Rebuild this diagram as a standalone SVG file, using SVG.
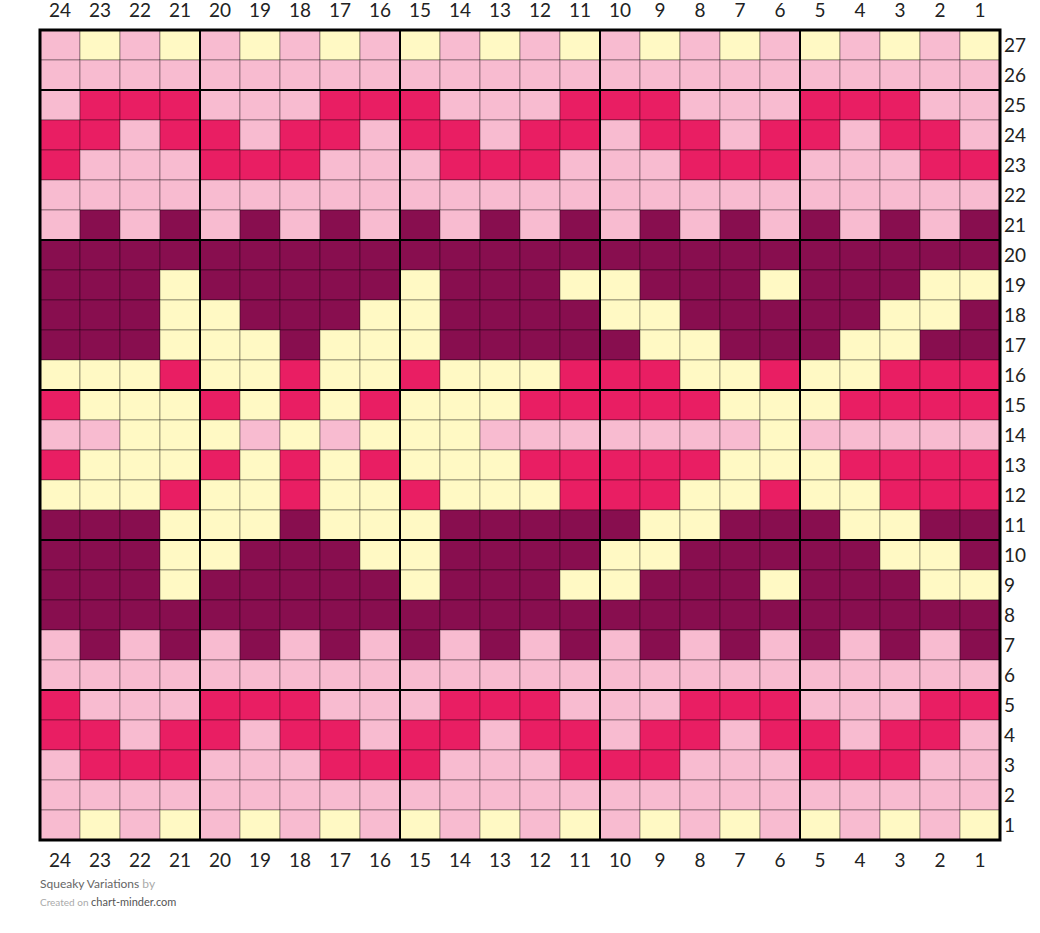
<svg xmlns="http://www.w3.org/2000/svg" width="1040" height="933" viewBox="0 0 1040 933">
<style>
.P{fill:#f8bbd0}.Y{fill:#fff9c4}.H{fill:#e91e63}.M{fill:#880e4f}
rect{stroke:#000;stroke-opacity:0.35;stroke-width:1}
.lab{font-family:Lato,"Liberation Sans",sans-serif;font-size:19px;fill:#222}
.c{text-anchor:middle}
.thick{stroke:#000;stroke-width:2;fill:none}
.border{stroke:#000;stroke-width:3;fill:none}
.ft{font-family:Lato,"Liberation Sans",sans-serif;font-size:12px}
</style>
<g id="grid">
<g id="row27"><rect x="40" y="30" width="40" height="30" class="P"/><rect x="80" y="30" width="40" height="30" class="Y"/><rect x="120" y="30" width="40" height="30" class="P"/><rect x="160" y="30" width="40" height="30" class="Y"/><rect x="200" y="30" width="40" height="30" class="P"/><rect x="240" y="30" width="40" height="30" class="Y"/><rect x="280" y="30" width="40" height="30" class="P"/><rect x="320" y="30" width="40" height="30" class="Y"/><rect x="360" y="30" width="40" height="30" class="P"/><rect x="400" y="30" width="40" height="30" class="Y"/><rect x="440" y="30" width="40" height="30" class="P"/><rect x="480" y="30" width="40" height="30" class="Y"/><rect x="520" y="30" width="40" height="30" class="P"/><rect x="560" y="30" width="40" height="30" class="Y"/><rect x="600" y="30" width="40" height="30" class="P"/><rect x="640" y="30" width="40" height="30" class="Y"/><rect x="680" y="30" width="40" height="30" class="P"/><rect x="720" y="30" width="40" height="30" class="Y"/><rect x="760" y="30" width="40" height="30" class="P"/><rect x="800" y="30" width="40" height="30" class="Y"/><rect x="840" y="30" width="40" height="30" class="P"/><rect x="880" y="30" width="40" height="30" class="Y"/><rect x="920" y="30" width="40" height="30" class="P"/><rect x="960" y="30" width="40" height="30" class="Y"/></g>
<g id="row26"><rect x="40" y="60" width="40" height="30" class="P"/><rect x="80" y="60" width="40" height="30" class="P"/><rect x="120" y="60" width="40" height="30" class="P"/><rect x="160" y="60" width="40" height="30" class="P"/><rect x="200" y="60" width="40" height="30" class="P"/><rect x="240" y="60" width="40" height="30" class="P"/><rect x="280" y="60" width="40" height="30" class="P"/><rect x="320" y="60" width="40" height="30" class="P"/><rect x="360" y="60" width="40" height="30" class="P"/><rect x="400" y="60" width="40" height="30" class="P"/><rect x="440" y="60" width="40" height="30" class="P"/><rect x="480" y="60" width="40" height="30" class="P"/><rect x="520" y="60" width="40" height="30" class="P"/><rect x="560" y="60" width="40" height="30" class="P"/><rect x="600" y="60" width="40" height="30" class="P"/><rect x="640" y="60" width="40" height="30" class="P"/><rect x="680" y="60" width="40" height="30" class="P"/><rect x="720" y="60" width="40" height="30" class="P"/><rect x="760" y="60" width="40" height="30" class="P"/><rect x="800" y="60" width="40" height="30" class="P"/><rect x="840" y="60" width="40" height="30" class="P"/><rect x="880" y="60" width="40" height="30" class="P"/><rect x="920" y="60" width="40" height="30" class="P"/><rect x="960" y="60" width="40" height="30" class="P"/></g>
<g id="row25"><rect x="40" y="90" width="40" height="30" class="P"/><rect x="80" y="90" width="40" height="30" class="H"/><rect x="120" y="90" width="40" height="30" class="H"/><rect x="160" y="90" width="40" height="30" class="H"/><rect x="200" y="90" width="40" height="30" class="P"/><rect x="240" y="90" width="40" height="30" class="P"/><rect x="280" y="90" width="40" height="30" class="P"/><rect x="320" y="90" width="40" height="30" class="H"/><rect x="360" y="90" width="40" height="30" class="H"/><rect x="400" y="90" width="40" height="30" class="H"/><rect x="440" y="90" width="40" height="30" class="P"/><rect x="480" y="90" width="40" height="30" class="P"/><rect x="520" y="90" width="40" height="30" class="P"/><rect x="560" y="90" width="40" height="30" class="H"/><rect x="600" y="90" width="40" height="30" class="H"/><rect x="640" y="90" width="40" height="30" class="H"/><rect x="680" y="90" width="40" height="30" class="P"/><rect x="720" y="90" width="40" height="30" class="P"/><rect x="760" y="90" width="40" height="30" class="P"/><rect x="800" y="90" width="40" height="30" class="H"/><rect x="840" y="90" width="40" height="30" class="H"/><rect x="880" y="90" width="40" height="30" class="H"/><rect x="920" y="90" width="40" height="30" class="P"/><rect x="960" y="90" width="40" height="30" class="P"/></g>
<g id="row24"><rect x="40" y="120" width="40" height="30" class="H"/><rect x="80" y="120" width="40" height="30" class="H"/><rect x="120" y="120" width="40" height="30" class="P"/><rect x="160" y="120" width="40" height="30" class="H"/><rect x="200" y="120" width="40" height="30" class="H"/><rect x="240" y="120" width="40" height="30" class="P"/><rect x="280" y="120" width="40" height="30" class="H"/><rect x="320" y="120" width="40" height="30" class="H"/><rect x="360" y="120" width="40" height="30" class="P"/><rect x="400" y="120" width="40" height="30" class="H"/><rect x="440" y="120" width="40" height="30" class="H"/><rect x="480" y="120" width="40" height="30" class="P"/><rect x="520" y="120" width="40" height="30" class="H"/><rect x="560" y="120" width="40" height="30" class="H"/><rect x="600" y="120" width="40" height="30" class="P"/><rect x="640" y="120" width="40" height="30" class="H"/><rect x="680" y="120" width="40" height="30" class="H"/><rect x="720" y="120" width="40" height="30" class="P"/><rect x="760" y="120" width="40" height="30" class="H"/><rect x="800" y="120" width="40" height="30" class="H"/><rect x="840" y="120" width="40" height="30" class="P"/><rect x="880" y="120" width="40" height="30" class="H"/><rect x="920" y="120" width="40" height="30" class="H"/><rect x="960" y="120" width="40" height="30" class="P"/></g>
<g id="row23"><rect x="40" y="150" width="40" height="30" class="H"/><rect x="80" y="150" width="40" height="30" class="P"/><rect x="120" y="150" width="40" height="30" class="P"/><rect x="160" y="150" width="40" height="30" class="P"/><rect x="200" y="150" width="40" height="30" class="H"/><rect x="240" y="150" width="40" height="30" class="H"/><rect x="280" y="150" width="40" height="30" class="H"/><rect x="320" y="150" width="40" height="30" class="P"/><rect x="360" y="150" width="40" height="30" class="P"/><rect x="400" y="150" width="40" height="30" class="P"/><rect x="440" y="150" width="40" height="30" class="H"/><rect x="480" y="150" width="40" height="30" class="H"/><rect x="520" y="150" width="40" height="30" class="H"/><rect x="560" y="150" width="40" height="30" class="P"/><rect x="600" y="150" width="40" height="30" class="P"/><rect x="640" y="150" width="40" height="30" class="P"/><rect x="680" y="150" width="40" height="30" class="H"/><rect x="720" y="150" width="40" height="30" class="H"/><rect x="760" y="150" width="40" height="30" class="H"/><rect x="800" y="150" width="40" height="30" class="P"/><rect x="840" y="150" width="40" height="30" class="P"/><rect x="880" y="150" width="40" height="30" class="P"/><rect x="920" y="150" width="40" height="30" class="H"/><rect x="960" y="150" width="40" height="30" class="H"/></g>
<g id="row22"><rect x="40" y="180" width="40" height="30" class="P"/><rect x="80" y="180" width="40" height="30" class="P"/><rect x="120" y="180" width="40" height="30" class="P"/><rect x="160" y="180" width="40" height="30" class="P"/><rect x="200" y="180" width="40" height="30" class="P"/><rect x="240" y="180" width="40" height="30" class="P"/><rect x="280" y="180" width="40" height="30" class="P"/><rect x="320" y="180" width="40" height="30" class="P"/><rect x="360" y="180" width="40" height="30" class="P"/><rect x="400" y="180" width="40" height="30" class="P"/><rect x="440" y="180" width="40" height="30" class="P"/><rect x="480" y="180" width="40" height="30" class="P"/><rect x="520" y="180" width="40" height="30" class="P"/><rect x="560" y="180" width="40" height="30" class="P"/><rect x="600" y="180" width="40" height="30" class="P"/><rect x="640" y="180" width="40" height="30" class="P"/><rect x="680" y="180" width="40" height="30" class="P"/><rect x="720" y="180" width="40" height="30" class="P"/><rect x="760" y="180" width="40" height="30" class="P"/><rect x="800" y="180" width="40" height="30" class="P"/><rect x="840" y="180" width="40" height="30" class="P"/><rect x="880" y="180" width="40" height="30" class="P"/><rect x="920" y="180" width="40" height="30" class="P"/><rect x="960" y="180" width="40" height="30" class="P"/></g>
<g id="row21"><rect x="40" y="210" width="40" height="30" class="P"/><rect x="80" y="210" width="40" height="30" class="M"/><rect x="120" y="210" width="40" height="30" class="P"/><rect x="160" y="210" width="40" height="30" class="M"/><rect x="200" y="210" width="40" height="30" class="P"/><rect x="240" y="210" width="40" height="30" class="M"/><rect x="280" y="210" width="40" height="30" class="P"/><rect x="320" y="210" width="40" height="30" class="M"/><rect x="360" y="210" width="40" height="30" class="P"/><rect x="400" y="210" width="40" height="30" class="M"/><rect x="440" y="210" width="40" height="30" class="P"/><rect x="480" y="210" width="40" height="30" class="M"/><rect x="520" y="210" width="40" height="30" class="P"/><rect x="560" y="210" width="40" height="30" class="M"/><rect x="600" y="210" width="40" height="30" class="P"/><rect x="640" y="210" width="40" height="30" class="M"/><rect x="680" y="210" width="40" height="30" class="P"/><rect x="720" y="210" width="40" height="30" class="M"/><rect x="760" y="210" width="40" height="30" class="P"/><rect x="800" y="210" width="40" height="30" class="M"/><rect x="840" y="210" width="40" height="30" class="P"/><rect x="880" y="210" width="40" height="30" class="M"/><rect x="920" y="210" width="40" height="30" class="P"/><rect x="960" y="210" width="40" height="30" class="M"/></g>
<g id="row20"><rect x="40" y="240" width="40" height="30" class="M"/><rect x="80" y="240" width="40" height="30" class="M"/><rect x="120" y="240" width="40" height="30" class="M"/><rect x="160" y="240" width="40" height="30" class="M"/><rect x="200" y="240" width="40" height="30" class="M"/><rect x="240" y="240" width="40" height="30" class="M"/><rect x="280" y="240" width="40" height="30" class="M"/><rect x="320" y="240" width="40" height="30" class="M"/><rect x="360" y="240" width="40" height="30" class="M"/><rect x="400" y="240" width="40" height="30" class="M"/><rect x="440" y="240" width="40" height="30" class="M"/><rect x="480" y="240" width="40" height="30" class="M"/><rect x="520" y="240" width="40" height="30" class="M"/><rect x="560" y="240" width="40" height="30" class="M"/><rect x="600" y="240" width="40" height="30" class="M"/><rect x="640" y="240" width="40" height="30" class="M"/><rect x="680" y="240" width="40" height="30" class="M"/><rect x="720" y="240" width="40" height="30" class="M"/><rect x="760" y="240" width="40" height="30" class="M"/><rect x="800" y="240" width="40" height="30" class="M"/><rect x="840" y="240" width="40" height="30" class="M"/><rect x="880" y="240" width="40" height="30" class="M"/><rect x="920" y="240" width="40" height="30" class="M"/><rect x="960" y="240" width="40" height="30" class="M"/></g>
<g id="row19"><rect x="40" y="270" width="40" height="30" class="M"/><rect x="80" y="270" width="40" height="30" class="M"/><rect x="120" y="270" width="40" height="30" class="M"/><rect x="160" y="270" width="40" height="30" class="Y"/><rect x="200" y="270" width="40" height="30" class="M"/><rect x="240" y="270" width="40" height="30" class="M"/><rect x="280" y="270" width="40" height="30" class="M"/><rect x="320" y="270" width="40" height="30" class="M"/><rect x="360" y="270" width="40" height="30" class="M"/><rect x="400" y="270" width="40" height="30" class="Y"/><rect x="440" y="270" width="40" height="30" class="M"/><rect x="480" y="270" width="40" height="30" class="M"/><rect x="520" y="270" width="40" height="30" class="M"/><rect x="560" y="270" width="40" height="30" class="Y"/><rect x="600" y="270" width="40" height="30" class="Y"/><rect x="640" y="270" width="40" height="30" class="M"/><rect x="680" y="270" width="40" height="30" class="M"/><rect x="720" y="270" width="40" height="30" class="M"/><rect x="760" y="270" width="40" height="30" class="Y"/><rect x="800" y="270" width="40" height="30" class="M"/><rect x="840" y="270" width="40" height="30" class="M"/><rect x="880" y="270" width="40" height="30" class="M"/><rect x="920" y="270" width="40" height="30" class="Y"/><rect x="960" y="270" width="40" height="30" class="Y"/></g>
<g id="row18"><rect x="40" y="300" width="40" height="30" class="M"/><rect x="80" y="300" width="40" height="30" class="M"/><rect x="120" y="300" width="40" height="30" class="M"/><rect x="160" y="300" width="40" height="30" class="Y"/><rect x="200" y="300" width="40" height="30" class="Y"/><rect x="240" y="300" width="40" height="30" class="M"/><rect x="280" y="300" width="40" height="30" class="M"/><rect x="320" y="300" width="40" height="30" class="M"/><rect x="360" y="300" width="40" height="30" class="Y"/><rect x="400" y="300" width="40" height="30" class="Y"/><rect x="440" y="300" width="40" height="30" class="M"/><rect x="480" y="300" width="40" height="30" class="M"/><rect x="520" y="300" width="40" height="30" class="M"/><rect x="560" y="300" width="40" height="30" class="M"/><rect x="600" y="300" width="40" height="30" class="Y"/><rect x="640" y="300" width="40" height="30" class="Y"/><rect x="680" y="300" width="40" height="30" class="M"/><rect x="720" y="300" width="40" height="30" class="M"/><rect x="760" y="300" width="40" height="30" class="M"/><rect x="800" y="300" width="40" height="30" class="M"/><rect x="840" y="300" width="40" height="30" class="M"/><rect x="880" y="300" width="40" height="30" class="Y"/><rect x="920" y="300" width="40" height="30" class="Y"/><rect x="960" y="300" width="40" height="30" class="M"/></g>
<g id="row17"><rect x="40" y="330" width="40" height="30" class="M"/><rect x="80" y="330" width="40" height="30" class="M"/><rect x="120" y="330" width="40" height="30" class="M"/><rect x="160" y="330" width="40" height="30" class="Y"/><rect x="200" y="330" width="40" height="30" class="Y"/><rect x="240" y="330" width="40" height="30" class="Y"/><rect x="280" y="330" width="40" height="30" class="M"/><rect x="320" y="330" width="40" height="30" class="Y"/><rect x="360" y="330" width="40" height="30" class="Y"/><rect x="400" y="330" width="40" height="30" class="Y"/><rect x="440" y="330" width="40" height="30" class="M"/><rect x="480" y="330" width="40" height="30" class="M"/><rect x="520" y="330" width="40" height="30" class="M"/><rect x="560" y="330" width="40" height="30" class="M"/><rect x="600" y="330" width="40" height="30" class="M"/><rect x="640" y="330" width="40" height="30" class="Y"/><rect x="680" y="330" width="40" height="30" class="Y"/><rect x="720" y="330" width="40" height="30" class="M"/><rect x="760" y="330" width="40" height="30" class="M"/><rect x="800" y="330" width="40" height="30" class="M"/><rect x="840" y="330" width="40" height="30" class="Y"/><rect x="880" y="330" width="40" height="30" class="Y"/><rect x="920" y="330" width="40" height="30" class="M"/><rect x="960" y="330" width="40" height="30" class="M"/></g>
<g id="row16"><rect x="40" y="360" width="40" height="30" class="Y"/><rect x="80" y="360" width="40" height="30" class="Y"/><rect x="120" y="360" width="40" height="30" class="Y"/><rect x="160" y="360" width="40" height="30" class="H"/><rect x="200" y="360" width="40" height="30" class="Y"/><rect x="240" y="360" width="40" height="30" class="Y"/><rect x="280" y="360" width="40" height="30" class="H"/><rect x="320" y="360" width="40" height="30" class="Y"/><rect x="360" y="360" width="40" height="30" class="Y"/><rect x="400" y="360" width="40" height="30" class="H"/><rect x="440" y="360" width="40" height="30" class="Y"/><rect x="480" y="360" width="40" height="30" class="Y"/><rect x="520" y="360" width="40" height="30" class="Y"/><rect x="560" y="360" width="40" height="30" class="H"/><rect x="600" y="360" width="40" height="30" class="H"/><rect x="640" y="360" width="40" height="30" class="H"/><rect x="680" y="360" width="40" height="30" class="Y"/><rect x="720" y="360" width="40" height="30" class="Y"/><rect x="760" y="360" width="40" height="30" class="H"/><rect x="800" y="360" width="40" height="30" class="Y"/><rect x="840" y="360" width="40" height="30" class="Y"/><rect x="880" y="360" width="40" height="30" class="H"/><rect x="920" y="360" width="40" height="30" class="H"/><rect x="960" y="360" width="40" height="30" class="H"/></g>
<g id="row15"><rect x="40" y="390" width="40" height="30" class="H"/><rect x="80" y="390" width="40" height="30" class="Y"/><rect x="120" y="390" width="40" height="30" class="Y"/><rect x="160" y="390" width="40" height="30" class="Y"/><rect x="200" y="390" width="40" height="30" class="H"/><rect x="240" y="390" width="40" height="30" class="Y"/><rect x="280" y="390" width="40" height="30" class="H"/><rect x="320" y="390" width="40" height="30" class="Y"/><rect x="360" y="390" width="40" height="30" class="H"/><rect x="400" y="390" width="40" height="30" class="Y"/><rect x="440" y="390" width="40" height="30" class="Y"/><rect x="480" y="390" width="40" height="30" class="Y"/><rect x="520" y="390" width="40" height="30" class="H"/><rect x="560" y="390" width="40" height="30" class="H"/><rect x="600" y="390" width="40" height="30" class="H"/><rect x="640" y="390" width="40" height="30" class="H"/><rect x="680" y="390" width="40" height="30" class="H"/><rect x="720" y="390" width="40" height="30" class="Y"/><rect x="760" y="390" width="40" height="30" class="Y"/><rect x="800" y="390" width="40" height="30" class="Y"/><rect x="840" y="390" width="40" height="30" class="H"/><rect x="880" y="390" width="40" height="30" class="H"/><rect x="920" y="390" width="40" height="30" class="H"/><rect x="960" y="390" width="40" height="30" class="H"/></g>
<g id="row14"><rect x="40" y="420" width="40" height="30" class="P"/><rect x="80" y="420" width="40" height="30" class="P"/><rect x="120" y="420" width="40" height="30" class="Y"/><rect x="160" y="420" width="40" height="30" class="Y"/><rect x="200" y="420" width="40" height="30" class="Y"/><rect x="240" y="420" width="40" height="30" class="P"/><rect x="280" y="420" width="40" height="30" class="Y"/><rect x="320" y="420" width="40" height="30" class="P"/><rect x="360" y="420" width="40" height="30" class="Y"/><rect x="400" y="420" width="40" height="30" class="Y"/><rect x="440" y="420" width="40" height="30" class="Y"/><rect x="480" y="420" width="40" height="30" class="P"/><rect x="520" y="420" width="40" height="30" class="P"/><rect x="560" y="420" width="40" height="30" class="P"/><rect x="600" y="420" width="40" height="30" class="P"/><rect x="640" y="420" width="40" height="30" class="P"/><rect x="680" y="420" width="40" height="30" class="P"/><rect x="720" y="420" width="40" height="30" class="P"/><rect x="760" y="420" width="40" height="30" class="Y"/><rect x="800" y="420" width="40" height="30" class="P"/><rect x="840" y="420" width="40" height="30" class="P"/><rect x="880" y="420" width="40" height="30" class="P"/><rect x="920" y="420" width="40" height="30" class="P"/><rect x="960" y="420" width="40" height="30" class="P"/></g>
<g id="row13"><rect x="40" y="450" width="40" height="30" class="H"/><rect x="80" y="450" width="40" height="30" class="Y"/><rect x="120" y="450" width="40" height="30" class="Y"/><rect x="160" y="450" width="40" height="30" class="Y"/><rect x="200" y="450" width="40" height="30" class="H"/><rect x="240" y="450" width="40" height="30" class="Y"/><rect x="280" y="450" width="40" height="30" class="H"/><rect x="320" y="450" width="40" height="30" class="Y"/><rect x="360" y="450" width="40" height="30" class="H"/><rect x="400" y="450" width="40" height="30" class="Y"/><rect x="440" y="450" width="40" height="30" class="Y"/><rect x="480" y="450" width="40" height="30" class="Y"/><rect x="520" y="450" width="40" height="30" class="H"/><rect x="560" y="450" width="40" height="30" class="H"/><rect x="600" y="450" width="40" height="30" class="H"/><rect x="640" y="450" width="40" height="30" class="H"/><rect x="680" y="450" width="40" height="30" class="H"/><rect x="720" y="450" width="40" height="30" class="Y"/><rect x="760" y="450" width="40" height="30" class="Y"/><rect x="800" y="450" width="40" height="30" class="Y"/><rect x="840" y="450" width="40" height="30" class="H"/><rect x="880" y="450" width="40" height="30" class="H"/><rect x="920" y="450" width="40" height="30" class="H"/><rect x="960" y="450" width="40" height="30" class="H"/></g>
<g id="row12"><rect x="40" y="480" width="40" height="30" class="Y"/><rect x="80" y="480" width="40" height="30" class="Y"/><rect x="120" y="480" width="40" height="30" class="Y"/><rect x="160" y="480" width="40" height="30" class="H"/><rect x="200" y="480" width="40" height="30" class="Y"/><rect x="240" y="480" width="40" height="30" class="Y"/><rect x="280" y="480" width="40" height="30" class="H"/><rect x="320" y="480" width="40" height="30" class="Y"/><rect x="360" y="480" width="40" height="30" class="Y"/><rect x="400" y="480" width="40" height="30" class="H"/><rect x="440" y="480" width="40" height="30" class="Y"/><rect x="480" y="480" width="40" height="30" class="Y"/><rect x="520" y="480" width="40" height="30" class="Y"/><rect x="560" y="480" width="40" height="30" class="H"/><rect x="600" y="480" width="40" height="30" class="H"/><rect x="640" y="480" width="40" height="30" class="H"/><rect x="680" y="480" width="40" height="30" class="Y"/><rect x="720" y="480" width="40" height="30" class="Y"/><rect x="760" y="480" width="40" height="30" class="H"/><rect x="800" y="480" width="40" height="30" class="Y"/><rect x="840" y="480" width="40" height="30" class="Y"/><rect x="880" y="480" width="40" height="30" class="H"/><rect x="920" y="480" width="40" height="30" class="H"/><rect x="960" y="480" width="40" height="30" class="H"/></g>
<g id="row11"><rect x="40" y="510" width="40" height="30" class="M"/><rect x="80" y="510" width="40" height="30" class="M"/><rect x="120" y="510" width="40" height="30" class="M"/><rect x="160" y="510" width="40" height="30" class="Y"/><rect x="200" y="510" width="40" height="30" class="Y"/><rect x="240" y="510" width="40" height="30" class="Y"/><rect x="280" y="510" width="40" height="30" class="M"/><rect x="320" y="510" width="40" height="30" class="Y"/><rect x="360" y="510" width="40" height="30" class="Y"/><rect x="400" y="510" width="40" height="30" class="Y"/><rect x="440" y="510" width="40" height="30" class="M"/><rect x="480" y="510" width="40" height="30" class="M"/><rect x="520" y="510" width="40" height="30" class="M"/><rect x="560" y="510" width="40" height="30" class="M"/><rect x="600" y="510" width="40" height="30" class="M"/><rect x="640" y="510" width="40" height="30" class="Y"/><rect x="680" y="510" width="40" height="30" class="Y"/><rect x="720" y="510" width="40" height="30" class="M"/><rect x="760" y="510" width="40" height="30" class="M"/><rect x="800" y="510" width="40" height="30" class="M"/><rect x="840" y="510" width="40" height="30" class="Y"/><rect x="880" y="510" width="40" height="30" class="Y"/><rect x="920" y="510" width="40" height="30" class="M"/><rect x="960" y="510" width="40" height="30" class="M"/></g>
<g id="row10"><rect x="40" y="540" width="40" height="30" class="M"/><rect x="80" y="540" width="40" height="30" class="M"/><rect x="120" y="540" width="40" height="30" class="M"/><rect x="160" y="540" width="40" height="30" class="Y"/><rect x="200" y="540" width="40" height="30" class="Y"/><rect x="240" y="540" width="40" height="30" class="M"/><rect x="280" y="540" width="40" height="30" class="M"/><rect x="320" y="540" width="40" height="30" class="M"/><rect x="360" y="540" width="40" height="30" class="Y"/><rect x="400" y="540" width="40" height="30" class="Y"/><rect x="440" y="540" width="40" height="30" class="M"/><rect x="480" y="540" width="40" height="30" class="M"/><rect x="520" y="540" width="40" height="30" class="M"/><rect x="560" y="540" width="40" height="30" class="M"/><rect x="600" y="540" width="40" height="30" class="Y"/><rect x="640" y="540" width="40" height="30" class="Y"/><rect x="680" y="540" width="40" height="30" class="M"/><rect x="720" y="540" width="40" height="30" class="M"/><rect x="760" y="540" width="40" height="30" class="M"/><rect x="800" y="540" width="40" height="30" class="M"/><rect x="840" y="540" width="40" height="30" class="M"/><rect x="880" y="540" width="40" height="30" class="Y"/><rect x="920" y="540" width="40" height="30" class="Y"/><rect x="960" y="540" width="40" height="30" class="M"/></g>
<g id="row9"><rect x="40" y="570" width="40" height="30" class="M"/><rect x="80" y="570" width="40" height="30" class="M"/><rect x="120" y="570" width="40" height="30" class="M"/><rect x="160" y="570" width="40" height="30" class="Y"/><rect x="200" y="570" width="40" height="30" class="M"/><rect x="240" y="570" width="40" height="30" class="M"/><rect x="280" y="570" width="40" height="30" class="M"/><rect x="320" y="570" width="40" height="30" class="M"/><rect x="360" y="570" width="40" height="30" class="M"/><rect x="400" y="570" width="40" height="30" class="Y"/><rect x="440" y="570" width="40" height="30" class="M"/><rect x="480" y="570" width="40" height="30" class="M"/><rect x="520" y="570" width="40" height="30" class="M"/><rect x="560" y="570" width="40" height="30" class="Y"/><rect x="600" y="570" width="40" height="30" class="Y"/><rect x="640" y="570" width="40" height="30" class="M"/><rect x="680" y="570" width="40" height="30" class="M"/><rect x="720" y="570" width="40" height="30" class="M"/><rect x="760" y="570" width="40" height="30" class="Y"/><rect x="800" y="570" width="40" height="30" class="M"/><rect x="840" y="570" width="40" height="30" class="M"/><rect x="880" y="570" width="40" height="30" class="M"/><rect x="920" y="570" width="40" height="30" class="Y"/><rect x="960" y="570" width="40" height="30" class="Y"/></g>
<g id="row8"><rect x="40" y="600" width="40" height="30" class="M"/><rect x="80" y="600" width="40" height="30" class="M"/><rect x="120" y="600" width="40" height="30" class="M"/><rect x="160" y="600" width="40" height="30" class="M"/><rect x="200" y="600" width="40" height="30" class="M"/><rect x="240" y="600" width="40" height="30" class="M"/><rect x="280" y="600" width="40" height="30" class="M"/><rect x="320" y="600" width="40" height="30" class="M"/><rect x="360" y="600" width="40" height="30" class="M"/><rect x="400" y="600" width="40" height="30" class="M"/><rect x="440" y="600" width="40" height="30" class="M"/><rect x="480" y="600" width="40" height="30" class="M"/><rect x="520" y="600" width="40" height="30" class="M"/><rect x="560" y="600" width="40" height="30" class="M"/><rect x="600" y="600" width="40" height="30" class="M"/><rect x="640" y="600" width="40" height="30" class="M"/><rect x="680" y="600" width="40" height="30" class="M"/><rect x="720" y="600" width="40" height="30" class="M"/><rect x="760" y="600" width="40" height="30" class="M"/><rect x="800" y="600" width="40" height="30" class="M"/><rect x="840" y="600" width="40" height="30" class="M"/><rect x="880" y="600" width="40" height="30" class="M"/><rect x="920" y="600" width="40" height="30" class="M"/><rect x="960" y="600" width="40" height="30" class="M"/></g>
<g id="row7"><rect x="40" y="630" width="40" height="30" class="P"/><rect x="80" y="630" width="40" height="30" class="M"/><rect x="120" y="630" width="40" height="30" class="P"/><rect x="160" y="630" width="40" height="30" class="M"/><rect x="200" y="630" width="40" height="30" class="P"/><rect x="240" y="630" width="40" height="30" class="M"/><rect x="280" y="630" width="40" height="30" class="P"/><rect x="320" y="630" width="40" height="30" class="M"/><rect x="360" y="630" width="40" height="30" class="P"/><rect x="400" y="630" width="40" height="30" class="M"/><rect x="440" y="630" width="40" height="30" class="P"/><rect x="480" y="630" width="40" height="30" class="M"/><rect x="520" y="630" width="40" height="30" class="P"/><rect x="560" y="630" width="40" height="30" class="M"/><rect x="600" y="630" width="40" height="30" class="P"/><rect x="640" y="630" width="40" height="30" class="M"/><rect x="680" y="630" width="40" height="30" class="P"/><rect x="720" y="630" width="40" height="30" class="M"/><rect x="760" y="630" width="40" height="30" class="P"/><rect x="800" y="630" width="40" height="30" class="M"/><rect x="840" y="630" width="40" height="30" class="P"/><rect x="880" y="630" width="40" height="30" class="M"/><rect x="920" y="630" width="40" height="30" class="P"/><rect x="960" y="630" width="40" height="30" class="M"/></g>
<g id="row6"><rect x="40" y="660" width="40" height="30" class="P"/><rect x="80" y="660" width="40" height="30" class="P"/><rect x="120" y="660" width="40" height="30" class="P"/><rect x="160" y="660" width="40" height="30" class="P"/><rect x="200" y="660" width="40" height="30" class="P"/><rect x="240" y="660" width="40" height="30" class="P"/><rect x="280" y="660" width="40" height="30" class="P"/><rect x="320" y="660" width="40" height="30" class="P"/><rect x="360" y="660" width="40" height="30" class="P"/><rect x="400" y="660" width="40" height="30" class="P"/><rect x="440" y="660" width="40" height="30" class="P"/><rect x="480" y="660" width="40" height="30" class="P"/><rect x="520" y="660" width="40" height="30" class="P"/><rect x="560" y="660" width="40" height="30" class="P"/><rect x="600" y="660" width="40" height="30" class="P"/><rect x="640" y="660" width="40" height="30" class="P"/><rect x="680" y="660" width="40" height="30" class="P"/><rect x="720" y="660" width="40" height="30" class="P"/><rect x="760" y="660" width="40" height="30" class="P"/><rect x="800" y="660" width="40" height="30" class="P"/><rect x="840" y="660" width="40" height="30" class="P"/><rect x="880" y="660" width="40" height="30" class="P"/><rect x="920" y="660" width="40" height="30" class="P"/><rect x="960" y="660" width="40" height="30" class="P"/></g>
<g id="row5"><rect x="40" y="690" width="40" height="30" class="H"/><rect x="80" y="690" width="40" height="30" class="P"/><rect x="120" y="690" width="40" height="30" class="P"/><rect x="160" y="690" width="40" height="30" class="P"/><rect x="200" y="690" width="40" height="30" class="H"/><rect x="240" y="690" width="40" height="30" class="H"/><rect x="280" y="690" width="40" height="30" class="H"/><rect x="320" y="690" width="40" height="30" class="P"/><rect x="360" y="690" width="40" height="30" class="P"/><rect x="400" y="690" width="40" height="30" class="P"/><rect x="440" y="690" width="40" height="30" class="H"/><rect x="480" y="690" width="40" height="30" class="H"/><rect x="520" y="690" width="40" height="30" class="H"/><rect x="560" y="690" width="40" height="30" class="P"/><rect x="600" y="690" width="40" height="30" class="P"/><rect x="640" y="690" width="40" height="30" class="P"/><rect x="680" y="690" width="40" height="30" class="H"/><rect x="720" y="690" width="40" height="30" class="H"/><rect x="760" y="690" width="40" height="30" class="H"/><rect x="800" y="690" width="40" height="30" class="P"/><rect x="840" y="690" width="40" height="30" class="P"/><rect x="880" y="690" width="40" height="30" class="P"/><rect x="920" y="690" width="40" height="30" class="H"/><rect x="960" y="690" width="40" height="30" class="H"/></g>
<g id="row4"><rect x="40" y="720" width="40" height="30" class="H"/><rect x="80" y="720" width="40" height="30" class="H"/><rect x="120" y="720" width="40" height="30" class="P"/><rect x="160" y="720" width="40" height="30" class="H"/><rect x="200" y="720" width="40" height="30" class="H"/><rect x="240" y="720" width="40" height="30" class="P"/><rect x="280" y="720" width="40" height="30" class="H"/><rect x="320" y="720" width="40" height="30" class="H"/><rect x="360" y="720" width="40" height="30" class="P"/><rect x="400" y="720" width="40" height="30" class="H"/><rect x="440" y="720" width="40" height="30" class="H"/><rect x="480" y="720" width="40" height="30" class="P"/><rect x="520" y="720" width="40" height="30" class="H"/><rect x="560" y="720" width="40" height="30" class="H"/><rect x="600" y="720" width="40" height="30" class="P"/><rect x="640" y="720" width="40" height="30" class="H"/><rect x="680" y="720" width="40" height="30" class="H"/><rect x="720" y="720" width="40" height="30" class="P"/><rect x="760" y="720" width="40" height="30" class="H"/><rect x="800" y="720" width="40" height="30" class="H"/><rect x="840" y="720" width="40" height="30" class="P"/><rect x="880" y="720" width="40" height="30" class="H"/><rect x="920" y="720" width="40" height="30" class="H"/><rect x="960" y="720" width="40" height="30" class="P"/></g>
<g id="row3"><rect x="40" y="750" width="40" height="30" class="P"/><rect x="80" y="750" width="40" height="30" class="H"/><rect x="120" y="750" width="40" height="30" class="H"/><rect x="160" y="750" width="40" height="30" class="H"/><rect x="200" y="750" width="40" height="30" class="P"/><rect x="240" y="750" width="40" height="30" class="P"/><rect x="280" y="750" width="40" height="30" class="P"/><rect x="320" y="750" width="40" height="30" class="H"/><rect x="360" y="750" width="40" height="30" class="H"/><rect x="400" y="750" width="40" height="30" class="H"/><rect x="440" y="750" width="40" height="30" class="P"/><rect x="480" y="750" width="40" height="30" class="P"/><rect x="520" y="750" width="40" height="30" class="P"/><rect x="560" y="750" width="40" height="30" class="H"/><rect x="600" y="750" width="40" height="30" class="H"/><rect x="640" y="750" width="40" height="30" class="H"/><rect x="680" y="750" width="40" height="30" class="P"/><rect x="720" y="750" width="40" height="30" class="P"/><rect x="760" y="750" width="40" height="30" class="P"/><rect x="800" y="750" width="40" height="30" class="H"/><rect x="840" y="750" width="40" height="30" class="H"/><rect x="880" y="750" width="40" height="30" class="H"/><rect x="920" y="750" width="40" height="30" class="P"/><rect x="960" y="750" width="40" height="30" class="P"/></g>
<g id="row2"><rect x="40" y="780" width="40" height="30" class="P"/><rect x="80" y="780" width="40" height="30" class="P"/><rect x="120" y="780" width="40" height="30" class="P"/><rect x="160" y="780" width="40" height="30" class="P"/><rect x="200" y="780" width="40" height="30" class="P"/><rect x="240" y="780" width="40" height="30" class="P"/><rect x="280" y="780" width="40" height="30" class="P"/><rect x="320" y="780" width="40" height="30" class="P"/><rect x="360" y="780" width="40" height="30" class="P"/><rect x="400" y="780" width="40" height="30" class="P"/><rect x="440" y="780" width="40" height="30" class="P"/><rect x="480" y="780" width="40" height="30" class="P"/><rect x="520" y="780" width="40" height="30" class="P"/><rect x="560" y="780" width="40" height="30" class="P"/><rect x="600" y="780" width="40" height="30" class="P"/><rect x="640" y="780" width="40" height="30" class="P"/><rect x="680" y="780" width="40" height="30" class="P"/><rect x="720" y="780" width="40" height="30" class="P"/><rect x="760" y="780" width="40" height="30" class="P"/><rect x="800" y="780" width="40" height="30" class="P"/><rect x="840" y="780" width="40" height="30" class="P"/><rect x="880" y="780" width="40" height="30" class="P"/><rect x="920" y="780" width="40" height="30" class="P"/><rect x="960" y="780" width="40" height="30" class="P"/></g>
<g id="row1"><rect x="40" y="810" width="40" height="30" class="P"/><rect x="80" y="810" width="40" height="30" class="Y"/><rect x="120" y="810" width="40" height="30" class="P"/><rect x="160" y="810" width="40" height="30" class="Y"/><rect x="200" y="810" width="40" height="30" class="P"/><rect x="240" y="810" width="40" height="30" class="Y"/><rect x="280" y="810" width="40" height="30" class="P"/><rect x="320" y="810" width="40" height="30" class="Y"/><rect x="360" y="810" width="40" height="30" class="P"/><rect x="400" y="810" width="40" height="30" class="Y"/><rect x="440" y="810" width="40" height="30" class="P"/><rect x="480" y="810" width="40" height="30" class="Y"/><rect x="520" y="810" width="40" height="30" class="P"/><rect x="560" y="810" width="40" height="30" class="Y"/><rect x="600" y="810" width="40" height="30" class="P"/><rect x="640" y="810" width="40" height="30" class="Y"/><rect x="680" y="810" width="40" height="30" class="P"/><rect x="720" y="810" width="40" height="30" class="Y"/><rect x="760" y="810" width="40" height="30" class="P"/><rect x="800" y="810" width="40" height="30" class="Y"/><rect x="840" y="810" width="40" height="30" class="P"/><rect x="880" y="810" width="40" height="30" class="Y"/><rect x="920" y="810" width="40" height="30" class="P"/><rect x="960" y="810" width="40" height="30" class="Y"/></g>
</g>
<g id="guides">
<path class="thick" d="M200 30V840M400 30V840M600 30V840M800 30V840M40 90H1000M40 240H1000M40 390H1000M40 540H1000M40 690H1000"/>
<path class="border" d="M40 30H1000V840H40Z"/>
</g>
<g id="top-labels" class="lab c">
<text x="60" y="17">24</text><text x="100" y="17">23</text><text x="140" y="17">22</text><text x="180" y="17">21</text><text x="220" y="17">20</text><text x="260" y="17">19</text><text x="300" y="17">18</text><text x="340" y="17">17</text><text x="380" y="17">16</text><text x="420" y="17">15</text><text x="460" y="17">14</text><text x="500" y="17">13</text><text x="540" y="17">12</text><text x="580" y="17">11</text><text x="620" y="17">10</text><text x="660" y="17">9</text><text x="700" y="17">8</text><text x="740" y="17">7</text><text x="780" y="17">6</text><text x="820" y="17">5</text><text x="860" y="17">4</text><text x="900" y="17">3</text><text x="940" y="17">2</text><text x="980" y="17">1</text>
</g>
<g id="bottom-labels" class="lab c">
<text x="60" y="866.5">24</text><text x="100" y="866.5">23</text><text x="140" y="866.5">22</text><text x="180" y="866.5">21</text><text x="220" y="866.5">20</text><text x="260" y="866.5">19</text><text x="300" y="866.5">18</text><text x="340" y="866.5">17</text><text x="380" y="866.5">16</text><text x="420" y="866.5">15</text><text x="460" y="866.5">14</text><text x="500" y="866.5">13</text><text x="540" y="866.5">12</text><text x="580" y="866.5">11</text><text x="620" y="866.5">10</text><text x="660" y="866.5">9</text><text x="700" y="866.5">8</text><text x="740" y="866.5">7</text><text x="780" y="866.5">6</text><text x="820" y="866.5">5</text><text x="860" y="866.5">4</text><text x="900" y="866.5">3</text><text x="940" y="866.5">2</text><text x="980" y="866.5">1</text>
</g>
<g id="row-labels" class="lab">
<text x="1004" y="51.5">27</text><text x="1004" y="81.5">26</text><text x="1004" y="111.5">25</text><text x="1004" y="141.5">24</text><text x="1004" y="171.5">23</text><text x="1004" y="201.5">22</text><text x="1004" y="231.5">21</text><text x="1004" y="261.5">20</text><text x="1004" y="291.5">19</text><text x="1004" y="321.5">18</text><text x="1004" y="351.5">17</text><text x="1004" y="381.5">16</text><text x="1004" y="411.5">15</text><text x="1004" y="441.5">14</text><text x="1004" y="471.5">13</text><text x="1004" y="501.5">12</text><text x="1004" y="531.5">11</text><text x="1004" y="561.5">10</text><text x="1004" y="591.5">9</text><text x="1004" y="621.5">8</text><text x="1004" y="651.5">7</text><text x="1004" y="681.5">6</text><text x="1004" y="711.5">5</text><text x="1004" y="741.5">4</text><text x="1004" y="771.5">3</text><text x="1004" y="801.5">2</text><text x="1004" y="831.5">1</text>
</g>
<g id="footer" class="ft">
<text x="40" y="888"><tspan fill="#666">Squeaky Variations</tspan><tspan fill="#aaa"> by</tspan></text>
<text x="40" y="906"><tspan fill="#aaa" font-size="10px">Created on </tspan><tspan fill="#555" font-size="11px">chart-minder.com</tspan></text>
</g>
</svg>
